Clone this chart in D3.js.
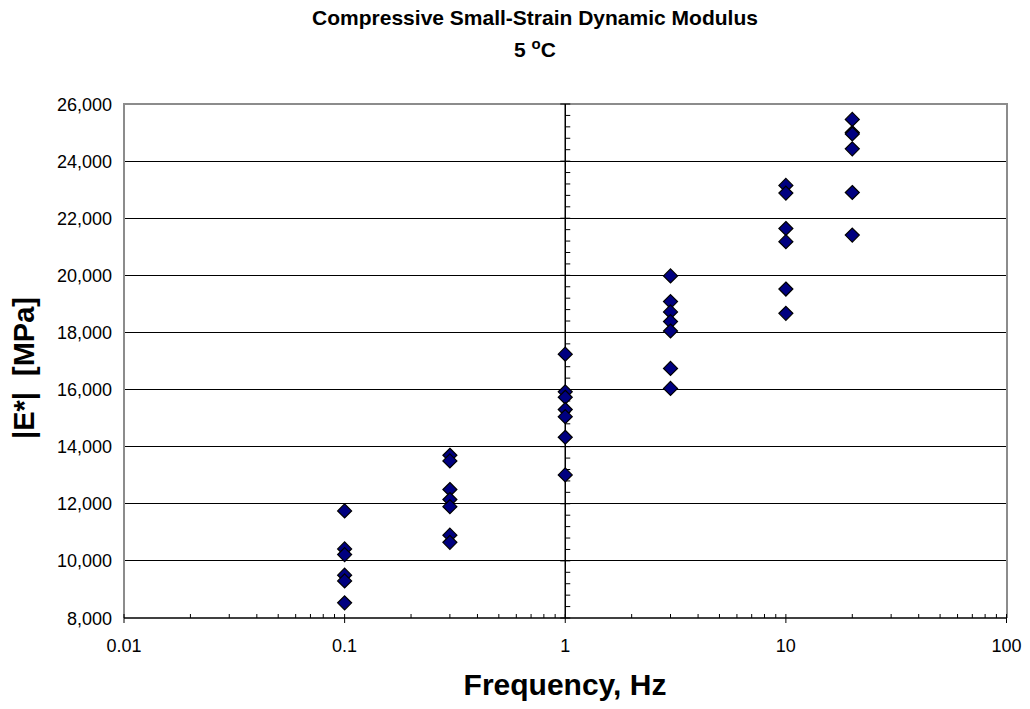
<!DOCTYPE html>
<html>
<head>
<meta charset="utf-8">
<script src="https://cdn.jsdelivr.net/npm/d3@7"></script>
<style>
  html, body { margin: 0; padding: 0; background: #fff; }
  svg { display: block; font-family: "Liberation Sans", Arial, sans-serif; }
</style>
</head>
<body>
<svg id="chart" width="1030" height="709"></svg>
<script>
// Test frequencies (Hz) and measured |E*| values (MPa) at each frequency
const freq01 = [11750, 10420, 10220, 9500, 9300, 8530];
const freq03 = [13700, 13500, 12500, 12150, 11900, 10900, 10650];
const freq1  = [17240, 15920, 15730, 15300, 15050, 14330, 13010];
const freq3  = [19980, 19080, 18720, 18380, 18050, 16740, 16040];
const freq10 = [23150, 22880, 21640, 21180, 19520, 18670];
const freq20 = [25460, 25000, 24950, 24430, 22900, 21410];

const frequencies = [0.1, 0.3, 1, 3, 10, 20];
const seriesByFreq = [freq01, freq03, freq1, freq3, freq10, freq20];

const xTickValues = [0.01, 0.1, 1, 10, 100];
const xTickLabels = ["0.01", "0.1", "1", "10", "100"];
const yTickValues = [8000, 10000, 12000, 14000, 16000, 18000, 20000, 22000, 24000, 26000];

(function () {
  const points = [];
  frequencies.forEach((f, i) => seriesByFreq[i].forEach(v => points.push({ f, v })));

  const svg = d3.select("#chart");
  const pLeft = 124, pRight = 1006.5, pTop = 104, pBottom = 618;

  const x = d3.scaleLog().domain([0.01, 100]).range([pLeft, pRight]);
  const y = d3.scaleLinear().domain([8000, 26000]).range([pBottom, pTop]);

  // horizontal gridlines
  svg.append("g").selectAll("line").data(yTickValues.slice(1, -1)).join("line")
    .attr("x1", pLeft).attr("x2", pRight)
    .attr("y1", d => y(d)).attr("y2", d => y(d))
    .attr("stroke", "#000").attr("stroke-width", 1).attr("shape-rendering", "crispEdges");

  // plot frame (left, top, right)
  svg.append("path")
    .attr("d", `M${pLeft},${pBottom}V${pTop}H${pRight}V${pBottom}`)
    .attr("fill", "none").attr("stroke", "#8c8c8c").attr("stroke-width", 2)
    .attr("shape-rendering", "crispEdges");

  // bottom x axis with logarithmic ticks
  const xAxisG = svg.append("g");
  xAxisG.append("line").attr("x1", pLeft).attr("x2", pRight).attr("y1", pBottom).attr("y2", pBottom)
    .attr("stroke", "#000").attr("stroke-width", 1.5);
  const minorX = [];
  for (let e = -2; e < 2; e++) for (let m = 2; m <= 9; m++) minorX.push(m * Math.pow(10, e));
  xAxisG.selectAll("line.minor").data(minorX).join("line").attr("class", "minor")
    .attr("x1", d => x(d)).attr("x2", d => x(d))
    .attr("y1", pBottom).attr("y2", pBottom - 4)
    .attr("stroke", "#000").attr("stroke-width", 1);
  xAxisG.selectAll("line.major").data(xTickValues).join("line").attr("class", "major")
    .attr("x1", d => x(d)).attr("x2", d => x(d))
    .attr("y1", pBottom - 4).attr("y2", pBottom + 5)
    .attr("stroke", "#000").attr("stroke-width", 1);
  xAxisG.selectAll("text").data(xTickValues).join("text")
    .attr("x", d => x(d)).attr("y", pBottom + 34)
    .attr("text-anchor", "middle").attr("font-size", 18).attr("fill", "#000")
    .text((d, i) => xTickLabels[i]);

  // y axis crossing at 1 Hz, with minor ticks
  const yAxisG = svg.append("g");
  yAxisG.append("line").attr("x1", x(1)).attr("x2", x(1)).attr("y1", pTop).attr("y2", pBottom)
    .attr("stroke", "#000").attr("stroke-width", 1.5);
  const minorY = d3.range(8400, 26000, 400).filter(v => v % 2000 !== 0);
  yAxisG.selectAll("line.minor").data(minorY).join("line").attr("class", "minor")
    .attr("x1", x(1)).attr("x2", x(1) + 5)
    .attr("y1", d => y(d)).attr("y2", d => y(d))
    .attr("stroke", "#000").attr("stroke-width", 1);
  yAxisG.selectAll("line.major").data(yTickValues).join("line").attr("class", "major")
    .attr("x1", x(1) - 5).attr("x2", x(1) + 5)
    .attr("y1", d => y(d)).attr("y2", d => y(d))
    .attr("stroke", "#000").attr("stroke-width", 1);

  // y tick labels on the left
  const fmt = d3.format(",");
  svg.append("g").selectAll("text").data(yTickValues).join("text")
    .attr("x", pLeft - 12).attr("y", d => y(d) + 6.5)
    .attr("text-anchor", "end").attr("font-size", 18).attr("fill", "#000")
    .text(d => fmt(d));

  // data markers (diamonds)
  const s = 7;
  svg.append("g").selectAll("path").data(points).join("path")
    .attr("transform", d => `translate(${x(d.f)},${y(d.v)})`)
    .attr("d", `M0,${-s}L${s},0L0,${s}L${-s},0Z`)
    .attr("fill", "#000080").attr("stroke", "#000").attr("stroke-width", 1.2);

  // titles
  svg.append("text").attr("x", 535).attr("y", 25).attr("text-anchor", "middle")
    .attr("font-size", 21).attr("font-weight", "bold")
    .text("Compressive Small-Strain Dynamic Modulus");
  const t2 = svg.append("text").attr("x", 535).attr("y", 57).attr("text-anchor", "middle")
    .attr("font-size", 21).attr("font-weight", "bold");
  t2.append("tspan").text("5 ");
  t2.append("tspan").attr("dy", -8).attr("font-size", 15).text("o");
  t2.append("tspan").attr("dy", 8).text("C");

  svg.append("text").attr("x", 565).attr("y", 695).attr("text-anchor", "middle")
    .attr("font-size", 30).attr("font-weight", "bold").text("Frequency, Hz");

  svg.append("text").attr("transform", "translate(34,368) rotate(-90)")
    .attr("text-anchor", "middle").attr("font-size", 29).attr("font-weight", "bold")
    .attr("xml:space", "preserve").style("white-space", "pre")
    .text("|E*|  [MPa]");
})();
</script>
</body>
</html>
